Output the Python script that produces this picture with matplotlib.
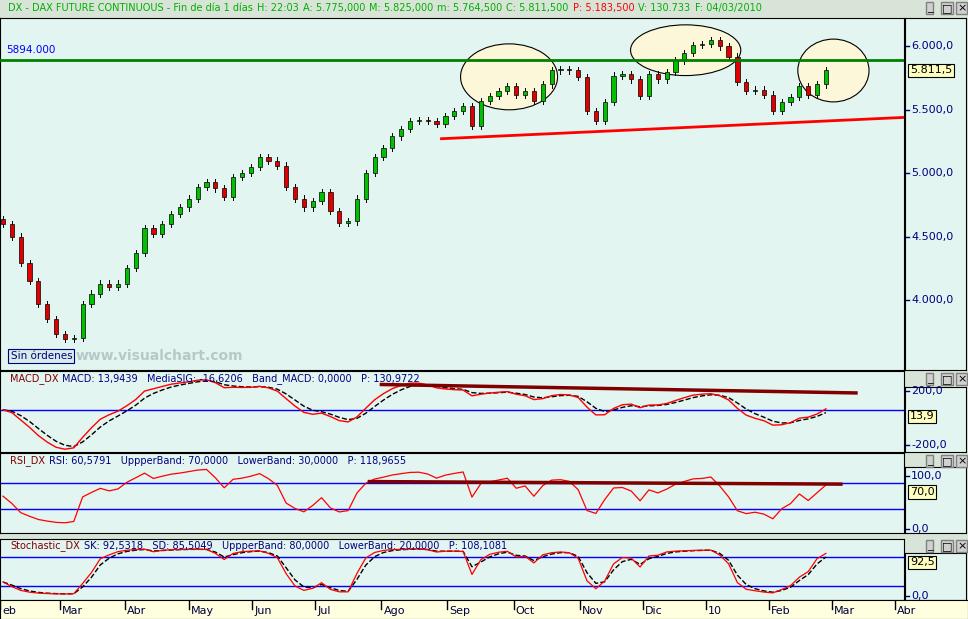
import matplotlib
matplotlib.use('Agg')
import matplotlib.pyplot as plt
import numpy as np
from matplotlib.patches import Ellipse, Rectangle

# cierres aproximados (una vela cada ~3 sesiones), feb 2009 - mar 2010
cierres = [4600, 4500, 4290, 4150, 3970, 3850, 3730, 3690, 3700, 3970, 4050, 4130,
           4100, 4130, 4250, 4370, 4570, 4520, 4600, 4680, 4730, 4800, 4890, 4930,
           4880, 4810, 4970, 5000, 5050, 5130, 5100, 5060, 4890, 4800, 4730, 4780,
           4850, 4700, 4610, 4620, 4800, 5000, 5130, 5200, 5290, 5350, 5410, 5420,
           5410, 5390, 5450, 5490, 5530, 5370, 5570, 5610, 5650, 5690, 5620, 5650,
           5570, 5700, 5810, 5820, 5810, 5760, 5490, 5410, 5560, 5770, 5780, 5740,
           5610, 5780, 5740, 5800, 5890, 5950, 6010, 6020, 6050, 6000, 5920, 5720,
           5650, 5660, 5620, 5490, 5560, 5600, 5690, 5620, 5700, 5811]
meses = ['eb', 'Mar', 'Abr', 'May', 'Jun', 'Jul', 'Ago', 'Sep', 'Oct', 'Nov', 'Dic',
         '10', 'Feb', 'Mar', 'Abr']
pos_meses = [0, 20, 41.7, 63, 84, 105, 127, 149, 171, 193, 214, 235, 256, 277, 298]
precio_ticks = [4000, 4500, 5000, 5500, 6000]
resistencia = 5894.0
soporte = [(147, 5272), (301, 5440)]

W, H = 968, 619
BG = '#e2f5f0'
fig = plt.figure(figsize=(W / 100, H / 100), dpi=100)
fig.patch.set_facecolor('#d8e4d8')
renderer = fig.canvas.get_renderer()


def ax_px(x0, y0, x1, y1, **kw):
    return fig.add_axes([x0 / W, 1 - y1 / H, (x1 - x0) / W, (y1 - y0) / H], **kw)


def tx(x, y, s, **kw):
    return fig.text(x / W, 1 - y / H, s, va='center', ha='left', **kw)


def cadena(x, y, partes, size=7):
    # textos de colores uno detras de otro
    for s, col in partes:
        t = tx(x, y, s, fontsize=size, color=col)
        x += t.get_window_extent(renderer).width + 4


c = np.array(cierres, float)
n = len(c)
xs = np.linspace(1, 275, n)
o = np.r_[c[0] + 40, c[:-1]]
hi = np.maximum(o, c) + 25
lo = np.minimum(o, c) - 25


def ema(a, p, inicio=None):
    k = 2 / (p + 1)
    out = np.empty_like(a)
    out[0] = a[0] if inicio is None else inicio
    for i in range(1, len(a)):
        out[i] = a[i] * k + out[i - 1] * (1 - k)
    return out


macd = ema(c, 5) - ema(c, 11)
sig = ema(macd, 3)
d = np.diff(c, prepend=c[0])
semilla = np.abs(d).mean() / 2
up = ema(np.clip(d, 0, None), 9, semilla)
dn = ema(np.clip(-d, 0, None), 9, semilla)
rsi = 100 - 100 / (1 + up / np.maximum(dn, 1e-9))
N = 7
k_raw = np.array([(c[i] - lo[max(0, i - N):i + 1].min()) /
                  (hi[max(0, i - N):i + 1].max() - lo[max(0, i - N):i + 1].min()) * 100
                  for i in range(n)])
sk = ema(k_raw, 2)
sd = ema(sk, 2)

XL = (0, 301)


def estilo(ax):
    ax.set_facecolor(BG)
    ax.set_xlim(*XL)
    ax.set_xticks([])
    ax.set_yticks([])
    for s in ax.spines.values():
        s.set_color('black')


def eje_der(y0, y1, lim, ticks, labels, valor):
    a = ax_px(905, y0, 966, y1)
    a.set_facecolor(BG)
    a.set_ylim(*lim)
    a.set_xlim(0, 1)
    a.set_xticks([])
    a.set_yticks([])
    for t, l in zip(ticks, labels):
        a.plot([0, 0.06], [t, t], color='#000080', lw=1)
        a.text(0.1, t, l, color='#000080', fontsize=8, va='center')
    a.text(0.08, valor[0], valor[1], fontsize=8, va='center',
           bbox=dict(boxstyle='square,pad=0.15', fc='#ffffc0', ec='black', lw=0.8))
    return a


def botones(y):
    for i, s in enumerate(['_', '□', '×']):
        tx(927 + i * 15, y, s, fontsize=8, bbox=dict(fc='#d0d0d0', ec='gray', pad=0.5))


# cabecera
verde = '#00b000'
cadena(8, 8, [('DX - DAX FUTURE CONTINUOUS - Fin de día 1 días', verde), ('H: 22:03', verde),
              ('A: 5.775,000', verde), ('M: 5.825,000', verde), ('m: 5.764,500', verde),
              ('C: 5.811,500', verde), ('P: 5.183,500', 'red'), ('V: 130.733', verde),
              ('F: 04/03/2010', verde)], size=7)
botones(8)

# panel principal
ax = ax_px(0, 18, 904, 370)
estilo(ax)
ax.set_ylim(3448, 6224)
for i in range(n):
    col = '#00c000' if c[i] >= o[i] else '#e00000'
    ax.plot([xs[i], xs[i]], [lo[i], hi[i]], color='black', lw=0.7, zorder=3)
    ax.add_patch(Rectangle((xs[i] - 0.7, min(o[i], c[i])), 1.4, max(abs(c[i] - o[i]), 8),
                           fc=col, ec='black', lw=0.5, zorder=4))
ax.axhline(resistencia, color='#008000', lw=2, zorder=5)
ax.text(2, resistencia + 40, '5894.000', color='blue', fontsize=7.5, va='bottom')
ax.plot([soporte[0][0], soporte[1][0]], [soporte[0][1], soporte[1][1]], color='red', lw=2, zorder=5)
for cx, cy, w, h in [(169.5, 5760, 32.3, 520), (228.3, 5970, 36.7, 400), (277.5, 5810, 23.7, 495)]:
    ax.add_patch(Ellipse((cx, cy), w, h, fc='#fbf7d8', ec='black', lw=0.8, zorder=1))
ax.text(3.5, 3560, 'Sin órdenes', fontsize=7.5, color='#000080', va='center',
        bbox=dict(boxstyle='square,pad=0.2', fc='#d8ece8', ec='#000080', lw=0.8))
ax.text(25, 3560, 'www.visualchart.com', fontsize=10, color='#b8c8c8', fontweight='bold', va='center')
eje_der(18, 370, (3448, 6224), precio_ticks, ['4.000,0', '4.500,0', '5.000,0', '5.500,0', '6.000,0'],
        (5811.5, '5.811,5'))

azul = '#000080'
# MACD
a1 = ax_px(0, 371, 904, 452)
estilo(a1)
a1.set_ylim(-250, 230)
a1.axhline(0, color='blue', lw=1)
a1.plot(xs, sig, color='black', lw=1, ls='--')
a1.plot(xs, macd, color='red', lw=1)
a1.plot([127, 285], [150, 100], color='#800000', lw=2.5)
cadena(10, 379, [('MACD_DX', '#800000'), ('MACD: 13,9439   MediaSIG: -16,6206   Band_MACD: 0,0000   P: 130,9722', azul)])
eje_der(387, 452, (-250, 230), [200, -200], ['200,0', '-200,0'], (13.9, '13,9'))
botones(379)

# RSI
a2 = ax_px(0, 453, 904, 533)
estilo(a2)
a2.set_ylim(-8, 118)
a2.axhline(70, color='blue', lw=1)
a2.axhline(30, color='blue', lw=1)
a2.plot(xs, rsi, color='red', lw=0.9)
a2.plot([123, 280], [73, 69], color='#800000', lw=2.5)
cadena(10, 461, [('RSI_DX', '#800000'), ('RSI: 60,5791   UppperBand: 70,0000   LowerBand: 30,0000   P: 118,9655', azul)])
eje_der(467, 533, (-8, 118), [100, 0], ['100,0', '0,0'], (70, '70,0'))
botones(461)

# Estocástico
a3 = ax_px(0, 539, 904, 600)
estilo(a3)
a3.set_ylim(-10, 118)
a3.axhline(80, color='blue', lw=1)
a3.axhline(20, color='blue', lw=1)
a3.plot(xs, sd, color='black', lw=1, ls='--')
a3.plot(xs, sk, color='red', lw=0.9)
cadena(10, 546, [('Stochastic_DX', '#800000'), ('SK: 92,5318   SD: 85,5049   UppperBand: 80,0000   LowerBand: 20,0000   P: 108,1081', azul)])
eje_der(553, 600, (-10, 118), [0], ['0,0'], (92.5, '92,5'))
botones(546)

# eje de fechas
ax_x = ax_px(0, 600, 968, 619)
ax_x.set_facecolor('#ffffe0')
ax_x.set_xlim(0, 301 * 968 / 904)
ax_x.set_ylim(0, 1)
ax_x.set_yticks([])
ax_x.set_xticks([])
for p, m in zip(pos_meses, meses):
    ax_x.plot([p, p], [1, 0.55], color='black', lw=1)
    ax_x.text(p + 0.7, 0.4, m, fontsize=8, va='center', color='#000040')

fig.savefig('out.png', dpi=100, facecolor=fig.get_facecolor())
